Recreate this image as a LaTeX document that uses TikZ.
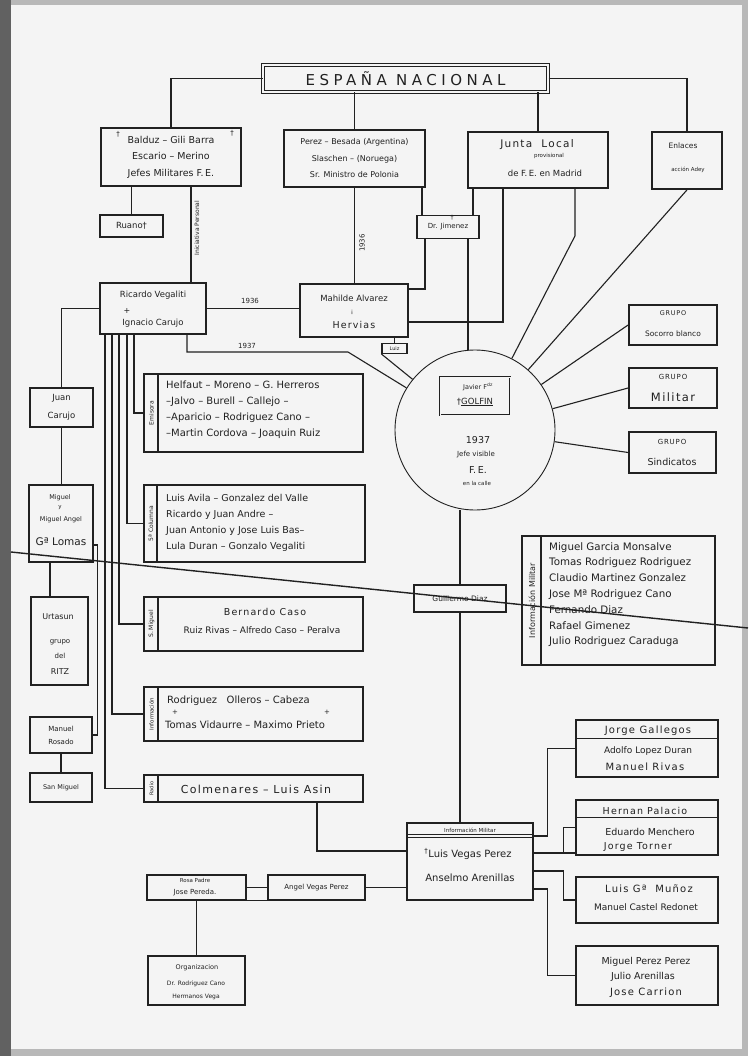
\documentclass[tikz,border=0pt]{standalone}
\usepackage{fontspec}
\setmainfont{DejaVu Sans}
\newfontfamily\titlefont[LetterSpace=30]{DejaVu Sans}
\newfontfamily\spacedfont[LetterSpace=12]{DejaVu Sans}
\usetikzlibrary{calc}
\definecolor{ink}{gray}{0.13}
\definecolor{paper}{gray}{0.955}
\definecolor{edge}{gray}{0.72}
\definecolor{darkedge}{gray}{0.38}
\newcommand{\myfs}[2]{\fontsize{#1}{#2}\selectfont}
\begin{document}
\begin{tikzpicture}[x=1pt,y=-1pt,
 box/.style={draw=ink, line width=1.8pt, inner sep=0pt},
 thinbox/.style={draw=ink, line width=1.1pt, inner sep=0pt},
 conn/.style={draw=ink, line width=1.1pt},
 txt/.style={text=ink, inner sep=0pt, align=center},
 ltxt/.style={text=ink, inner sep=0pt, align=left, anchor=north west},
 tablabel/.style={text=ink, inner sep=0pt, rotate=90, font=\myfs{6}{7}},
 tabline/.style={draw=ink, line width=1.3pt},
]
\path[fill=edge] (0,0) rectangle (748,1056);
\path[fill=darkedge] (0,0) rectangle (11,1056);
\path[fill=paper] (11,5) rectangle (742,1049);
\useasboundingbox (0,0) rectangle (748,1056);

% ---------- title
\node[box, double=paper, double distance=1.4pt, line width=1pt, minimum width=285pt, minimum height=27pt, text=ink, font=\titlefont\myfs{15}{18}] (T) at (405.5,78.5) {ESPAÑA NACIONAL};

% ---------- top row
\node[box, minimum width=140pt, minimum height=58pt, txt, font=\myfs{9.5}{16.5}] (A) at (171,157) {Balduz – Gili Barra\\Escario – Merino\\Jefes Militares F.\,E.};
\node[txt, font=\myfs{7}{7}] (Ax1) at (118,134) {†};
\node[txt, font=\myfs{7}{7}] (Ax2) at (232,133) {†};

\node[box, minimum width=141pt, minimum height=57pt, txt, font=\myfs{8}{16.5}] (B) at (354.5,158.5) {Perez – Besada (Argentina)\\Slaschen – (Noruega)\\Sr. Ministro de Polonia};

\node[box, minimum width=140pt, minimum height=56pt] (C) at (538,160) {};
\node[txt, font=\spacedfont\myfs{10.5}{11}] (Ct1) at (537,145) {Junta\ \ Local};
\node[txt, font=\myfs{5.5}{6}] (Ct2) at (549,156) {provisional};
\node[txt, font=\myfs{8.5}{9}] (Ct3) at (545,173) {de F.\,E. en Madrid};

\node[box, minimum width=70pt, minimum height=57pt] (D) at (687,160.5) {};
\node[txt, font=\myfs{7.5}{8}] (Dt1) at (683,146) {Enlaces};
\node[txt, font=\myfs{5.5}{6}] (Dt2) at (688,170) {acción Adey};

\node[box, minimum width=63pt, minimum height=22pt, txt, font=\myfs{8.5}{9}] (R) at (131.5,226) {Ruano†};

\node[box, line width=1.2pt, minimum width=62pt, minimum height=23pt, txt, font=\myfs{7}{8}] (J) at (448,227) {Dr. Jimenez};
\node[txt, font=\myfs{6}{6}] (Jx) at (452,218) {†};

% ---------- second row
\node[box, minimum width=106pt, minimum height=51pt] (RV) at (153,308.5) {};
\node[txt, font=\myfs{8.5}{9}] (RVt1) at (153,295) {Ricardo Vegaliti};
\node[txt, font=\myfs{8}{8}] (RVt2) at (127,311) {+};
\node[txt, font=\myfs{8.5}{9}] (RVt3) at (153,323) {Ignacio Carujo};

\node[box, minimum width=108pt, minimum height=53pt] (M) at (354,310.5) {};
\node[txt, font=\myfs{8.5}{9}] (Mt1) at (354,298) {Mahilde Alvarez};
\node[txt, font=\myfs{6}{6}] (Mt2) at (352,312) {¡};
\node[txt, font=\spacedfont\myfs{9.5}{10}] (Mt3) at (354,325) {Hervias};

\node[thinbox, minimum width=25pt, minimum height=10pt, txt, font=\myfs{5}{5}] (L) at (394.5,348.5) {Luiz};

% ---------- circle
\node[draw=ink, line width=0.9pt, circle, minimum size=160pt, inner sep=0pt] (CI) at (475,430) {};
\node[box, double=paper, double distance=1pt, line width=0.9pt, minimum width=70pt, minimum height=38pt] (G) at (475,396) {};
\node[txt, font=\myfs{6.5}{7}] (Gt1) at (478,387) {Javier F\textsuperscript{dz}};
\node[txt, font=\myfs{8.5}{9}] (Gt2) at (475,402) {†\underline{GOLFIN}};
\node[txt, font=\myfs{9.5}{9}] (CIt1) at (478,440) {1937};
\node[txt, font=\myfs{7}{7}] (CIt2) at (476,455) {Jefe visible};
\node[txt, font=\myfs{9.5}{9}] (CIt3) at (478,470) {F.\,E.};
\node[txt, font=\myfs{5.5}{6}] (CIt4) at (477,483) {en la calle};

% ---------- groups
\node[box, minimum width=88pt, minimum height=40pt] (S1) at (673,325) {};
\node[txt, font=\spacedfont\myfs{6.5}{7}] (S1a) at (673,313) {GRUPO};
\node[txt, font=\myfs{7.5}{8}] (S1b) at (673,334) {Socorro blanco};
\node[box, minimum width=88pt, minimum height=40pt] (S2) at (673,388) {};
\node[txt, font=\spacedfont\myfs{7}{7}] (S2a) at (673,377) {GRUPO};
\node[txt, font=\spacedfont\myfs{11.5}{12}] (S2b) at (673,397) {Militar};
\node[box, minimum width=87pt, minimum height=41pt] (S3) at (672.5,452.5) {};
\node[txt, font=\spacedfont\myfs{7}{7}] (S3a) at (672,442) {GRUPO};
\node[txt, font=\myfs{9.5}{10}] (S3b) at (672,462) {Sindicatos};

% ---------- left column
\node[box, minimum width=63pt, minimum height=39pt, txt, font=\myfs{8.5}{18}] (JC) at (61.5,407.5) {Juan\\Carujo};

\node[box, minimum width=64pt, minimum height=77pt] (MG) at (61,523.5) {};
\node[txt, font=\myfs{6.5}{7}] (MGt1) at (60,498) {Miguel};
\node[txt, font=\myfs{5.5}{6}] (MGt2) at (60,508) {y};
\node[txt, font=\myfs{6.5}{7}] (MGt3) at (61,520) {Miguel Angel};
\node[txt, font=\myfs{10.5}{11}] (MGt4) at (61,542) {Gª Lomas};

\node[box, minimum width=57pt, minimum height=88pt] (U) at (59.5,641) {};
\node[txt, font=\myfs{8}{8}] (Ut1) at (58,617) {Urtasun};
\node[txt, font=\myfs{7}{7}] (Ut2) at (60,642) {grupo};
\node[txt, font=\myfs{7}{7}] (Ut3) at (60,656) {del};
\node[txt, font=\myfs{8}{8}] (Ut4) at (60,672) {RITZ};

\node[box, minimum width=62pt, minimum height=36pt, txt, font=\myfs{7}{13}] (MR) at (61,735) {Manuel\\Rosado};
\node[box, minimum width=62pt, minimum height=29pt, txt, font=\myfs{6.5}{7}] (SM) at (61,787.5) {San Miguel};

% ---------- tabbed boxes
\node[box, minimum width=219pt, minimum height=78pt] (EM) at (253.5,413) {};
\draw[tabline] ([xshift=15pt]EM.north west) -- ([xshift=15pt]EM.south west);
\node[tablabel] (EMt) at (151.5,413) {Emisora};
\node[ltxt, font=\myfs{10}{16}] (EMx) at (166,381) {Helfaut – Moreno – G. Herreros\\–Jalvo – Burell – Callejo –\\–Aparicio – Rodriguez Cano –\\–Martin Cordova – Joaquin Ruiz};

\node[box, minimum width=221pt, minimum height=77pt] (QC) at (254.5,523.5) {};
\draw[tabline] ([xshift=14pt]QC.north west) -- ([xshift=14pt]QC.south west);
\node[tablabel] (QCt) at (151,523.5) {5ª Columna};
\node[ltxt, font=\myfs{9.5}{16}] (QCx) at (166,494) {Luis Avila – Gonzalez del Valle\\Ricardo y Juan Andre –\\Juan Antonio y Jose Luis Bas–\\Lula Duran – Gonzalo Vegaliti};

\node[box, minimum width=219pt, minimum height=54pt] (BC) at (253.5,624) {};
\draw[tabline] ([xshift=15pt]BC.north west) -- ([xshift=15pt]BC.south west);
\node[tablabel] (BCt) at (151.5,624) {S. Miguel};
\node[txt, font=\spacedfont\myfs{9.5}{10}] (BCx1) at (265,612) {Bernardo Caso};
\node[txt, font=\myfs{9}{10}] (BCx2) at (262,630) {Ruiz Rivas – Alfredo Caso – Peralva};

\node[box, minimum width=219pt, minimum height=54pt] (RD) at (253.5,714) {};
\draw[tabline] ([xshift=15pt]RD.north west) -- ([xshift=15pt]RD.south west);
\node[tablabel, font=\myfs{5.5}{6}] (RDt) at (151.5,714) {Información};
\node[ltxt, font=\myfs{10}{10}] (RDx1) at (167,696) {Rodriguez\ \ \ Olleros – Cabeza};
\node[txt, font=\myfs{7}{7}] (RDc1) at (175,712) {+};
\node[txt, font=\myfs{7}{7}] (RDc2) at (327,712) {+};
\node[ltxt, font=\myfs{10}{10}] (RDx2) at (165,721) {Tomas Vidaurre – Maximo Prieto};

\node[box, minimum width=219pt, minimum height=27pt] (CO) at (253.5,788.5) {};
\draw[tabline] ([xshift=15pt]CO.north west) -- ([xshift=15pt]CO.south west);
\node[tablabel, font=\myfs{5}{5}] (COt) at (151.5,788.5) {Radio};
\node[txt, font=\spacedfont\myfs{11}{11}] (COx) at (256,789) {Colmenares – Luis Asin};

% ---------- right list box
\node[box, minimum width=193pt, minimum height=129pt] (IMR) at (618.5,600.5) {};
\draw[tabline] ([xshift=20pt]IMR.north west) -- ([xshift=20pt]IMR.south west);
\node[tablabel, font=\myfs{8}{8}] (IMRt) at (532,600.5) {Información Militar};
\node[ltxt, font=\myfs{10.3}{15.8}] (IMRx) at (549,542) {Miguel Garcia Monsalve\\Tomas Rodriguez Rodriguez\\Claudio Martinez Gonzalez\\Jose Mª Rodriguez Cano\\Fernando Diaz\\Rafael Gimenez\\Julio Rodriguez Caraduga};

\node[box, line width=1.4pt, minimum width=92pt, minimum height=27pt, txt, font=\myfs{7.5}{8}] (GD) at (460,598.5) {Guillermo Diaz};

% ---------- bottom centre
\node[box, minimum width=126pt, minimum height=77pt] (IM) at (470,861.5) {};
\draw[ink, line width=0.9pt] ([yshift=-12pt]IM.north west) -- ([yshift=-12pt]IM.north east);
\draw[ink, line width=0.9pt] ([yshift=-15pt]IM.north west) -- ([yshift=-15pt]IM.north east);
\node[txt, font=\myfs{5.5}{6}] (IMh) at (470,830) {Información Militar};
\node[txt, font=\myfs{10}{10}] (IMa) at (468,854) {\textsuperscript{†}Luis Vegas Perez};
\node[txt, font=\myfs{10}{10}] (IMb) at (470,878) {Anselmo Arenillas};

\node[box, minimum width=97pt, minimum height=25pt, txt, font=\myfs{7}{8}] (AV) at (316.5,887.5) {Angel Vegas Perez};
\node[box, minimum width=99pt, minimum height=25pt] (RP) at (196.5,887.5) {};
\node[txt, font=\myfs{5.5}{6}] (RPt1) at (195,880) {Rosa Padre};
\node[txt, font=\myfs{7}{7}] (RPt2) at (195,893) {Jose Pereda.};
\node[box, minimum width=97pt, minimum height=49pt] (OR) at (196.5,980.5) {};
\node[txt, font=\myfs{6.5}{7}] (ORt1) at (197,968) {Organizacion};
\node[txt, font=\myfs{6}{6}] (ORt2) at (196,984) {Dr. Rodriguez Cano};
\node[txt, font=\myfs{6}{6}] (ORt3) at (196,997) {Hermanos Vega};

% ---------- right stack
\node[box, minimum width=142pt, minimum height=57pt] (G1) at (647,748.5) {};
\draw[ink, line width=1pt] ([yshift=-19pt]G1.north west) -- ([yshift=-19pt]G1.north east);
\node[txt, font=\spacedfont\myfs{10}{10}] (G1a) at (648,731) {Jorge Gallegos};
\node[txt, font=\myfs{9}{9}] (G1b) at (648,751) {Adolfo Lopez Duran};
\node[txt, font=\spacedfont\myfs{10}{10}] (G1c) at (645,767) {Manuel Rivas};

\node[box, minimum width=142pt, minimum height=55pt] (G2) at (647,827.5) {};
\draw[ink, line width=1pt] ([yshift=-18pt]G2.north west) -- ([yshift=-18pt]G2.north east);
\node[txt, font=\spacedfont\myfs{9.5}{10}] (G2a) at (645,811) {Hernan Palacio};
\node[txt, font=\myfs{9.5}{10}] (G2b) at (650,832) {Eduardo Menchero};
\node[txt, font=\spacedfont\myfs{9.5}{10}] (G2c) at (638,847) {Jorge Torner};

\node[box, minimum width=142pt, minimum height=46pt] (G3) at (647,900) {};
\node[txt, font=\spacedfont\myfs{10}{10}] (G3a) at (649,889) {Luis Gª\ \ Muñoz};
\node[txt, font=\myfs{9}{9}] (G3b) at (646,907) {Manuel Castel Redonet};

\node[box, minimum width=142pt, minimum height=59pt] (G4) at (647,975.5) {};
\node[txt, font=\myfs{9.5}{10}] (G4a) at (646,962) {Miguel Perez Perez};
\node[txt, font=\myfs{9.5}{10}] (G4b) at (643,977) {Julio Arenillas};
\node[txt, font=\spacedfont\myfs{10}{10}] (G4c) at (646,993) {Jose Carrion};

% ---------- connectors
\draw[conn] (T.west) -| (A.north);
\draw[conn] (T.south -| B.north) -- (B.north);
\draw[conn] (T.south -| C.north) -- (C.north);
\draw[conn] (T.east) -| (D.north);
\draw[conn] (R.north) -- (R.north |- A.south);
\draw[conn] ([xshift=20pt]A.south) -- ([xshift=38pt]RV.north);
\node[txt, rotate=90, font=\myfs{6}{6}] (IP) at (197,228) {Iniciativa Personal};
\draw[conn] (B.south) -- (B.south |- M.north);
\node[txt, rotate=90, font=\myfs{7}{7}] (Y36b) at (362,243) {1936};
\draw[conn] ([xshift=67.5pt]B.south) -- ([xshift=-26pt]J.north);
\draw[conn] ([xshift=-65pt]C.south) -- ([xshift=25pt]J.north);
\draw[conn] ([xshift=-23pt]J.south) |- ([yshift=21.5pt]M.east);
\draw[conn] ([xshift=20pt]J.south) -- ([xshift=-7pt]CI.north);
\draw[conn] ([xshift=-35pt]C.south) |- ([yshift=-11.5pt]M.east);
\draw[conn] ([xshift=37pt]C.south) -- ++(0,47) -- (CI);
\draw[conn] (D.south) -- (CI);
\draw[conn] (RV.east) -- (RV.east -| M.west);
\node[txt, font=\myfs{7}{7}] (Y36) at (250,301) {1936};
\coordinate (k37) at (348,352);
\draw[conn] ([xshift=34pt]RV.south) |- (k37) -- (CI);
\node[txt, font=\myfs{7}{7}] (Y37) at (247,346) {1937};
\draw[conn] (L.north) -- (L.north |- M.south);
\draw[conn] (L.south west) -- (CI);
\draw[conn] (S1.west) -- (CI);
\draw[conn] (S2.west) -- (CI);
\draw[conn] (S3.west) -- (CI);

\draw[conn] (RV.west) -| (JC.north);
\draw[conn] (JC.south) -- (JC.south |- MG.north);
\draw[conn] ([xshift=-11pt]MG.south) -- ([xshift=-9.5pt]U.north);
\draw[conn] ([yshift=-21.5pt]MG.east) -- ++(4,0) |- (MR.east);
\draw[conn] (MR.south) -- (SM.north);

\draw[conn] ([xshift=-19pt]RV.south) |- (EM.west);
\draw[conn] ([xshift=-26pt]RV.south) |- (QC.west);
\draw[conn] ([xshift=-34pt]RV.south) |- (BC.west);
\draw[conn] ([xshift=-41pt]RV.south) |- (RD.west);
\draw[conn] ([xshift=-48pt]RV.south) |- (CO.west);

\draw[conn] ([xshift=-15pt]CI.south) -- (GD.north);
\draw[conn] (GD.south) -- ([xshift=-10pt]IM.north);
\draw[conn] ([xshift=63.5pt]CO.south) |- ([yshift=10.5pt]IM.west);
\draw[conn] (AV.east) -- (AV.east -| IM.west);
\draw[conn] (RP.east) -- (AV.west);
\draw[conn] (RP.south east) -- (AV.south west);
\draw[conn] (RP.south) -- (OR.north);

\draw[conn] ([yshift=25.5pt]IM.east) -- ++(14,0) |- (G1.west);
\draw[conn] ([yshift=8.5pt]IM.east) -- ([yshift=-25.5pt]G2.west);
\draw[conn] ([yshift=8.5pt]IM.east) ++(30,0) |- (G2.west);
\draw[conn] ([yshift=-9.5pt]IM.east) -- ++(30,0) |- (G3.west);
\draw[conn] ([yshift=-27.5pt]IM.east) -- ++(14,0) |- (G4.west);

% ---------- stray pencil stroke across the sheet
\draw[ink, line width=1.4pt] (11,552) -- (748,628);
\end{tikzpicture}
\end{document}
